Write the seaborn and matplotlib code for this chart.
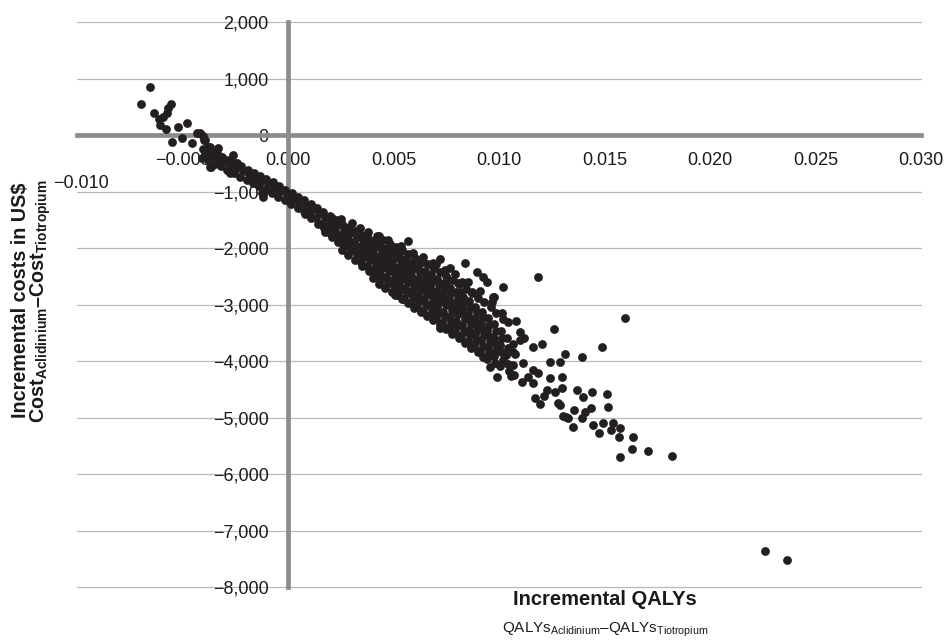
import pandas as pd
import matplotlib
matplotlib.use("Agg")
import matplotlib.pyplot as plt
import seaborn as sns

# Probabilistic sensitivity analysis: incremental QALYs vs incremental costs
# (one dot per simulation)

# scattered dots top-left of the cloud
left_qaly = [-0.00654, -0.00697, -0.00635, -0.00611, -0.00607, -0.00592, -0.00574,
             -0.00569, -0.00555, -0.00578, -0.00550, -0.00521, -0.00502, -0.00479,
             -0.00455, -0.00431, -0.00403, -0.00398, -0.00379, -0.00365, -0.00355,
             -0.00308, -0.00275, -0.00261, -0.00242, -0.00418, -0.00393, -0.00370,
             -0.00336, -0.00370, -0.00300, -0.00330, -0.00123, -0.00118]
left_cost = [850, 550, 390, 280, 180, 320, 390,
             480, 550, 100, -120, 140, -50, 210,
             -140, 30, -20, -90, -210, -560, -320,
             -440, -680, -350, -500, 35, -90, -210,
             -320, -560, -440, -230, -1030, -1100]

# dense main band
band_qaly = [
    -0.00402, -0.00395, -0.00408,
    -0.00372, -0.00365, -0.00378,
    -0.00341, -0.00336, -0.00347,
    -0.00313, -0.00305, -0.00316,
    -0.00282, -0.00276, -0.00287,
    -0.00251, -0.00246, -0.00256,
    -0.00223, -0.00215, -0.00226,
    -0.00191, -0.00187, -0.00196,
    -0.00162, -0.00155, -0.00166,
    -0.00132, -0.00126, -0.00137,
    -0.00102, -0.00095, -0.00106,
    -0.00072, -0.00066, -0.00076,
    -0.00042, -0.00036, -0.00047,
    -0.00012, -0.00006, -0.00016,
    0.00018, 0.00024, 0.00015,
    0.00048, 0.00054, 0.00045,
    0.00078, 0.00084, 0.00074, 0.00081,
    0.00108, 0.00114, 0.00104, 0.00111,
    0.00138, 0.00145, 0.00134, 0.00141,
    0.00168, 0.00174, 0.00165, 0.00171, 0.00177,
    0.00198, 0.00205, 0.00194, 0.00201, 0.00208,
    0.00228, 0.00234, 0.00224, 0.00231, 0.00237,
    0.00258, 0.00264, 0.00254, 0.00261, 0.00267, 0.00256,
    0.00288, 0.00294, 0.00284, 0.00291, 0.00297, 0.00286,
    0.00318, 0.00325, 0.00314, 0.00321, 0.00327, 0.00316,
    0.00348, 0.00354, 0.00344, 0.00351, 0.00357, 0.00346, 0.00353,
    0.00378, 0.00384, 0.00374, 0.00381, 0.00387, 0.00376, 0.00383,
    0.00408, 0.00414, 0.00404, 0.00411, 0.00417, 0.00406, 0.00413, 0.00402,
    0.00438, 0.00444, 0.00434, 0.00441, 0.00447, 0.00436, 0.00443, 0.00432,
    0.00468, 0.00474, 0.00464, 0.00471, 0.00477, 0.00466, 0.00473, 0.00462,
    0.00498, 0.00504, 0.00494, 0.00501, 0.00507, 0.00496, 0.00503, 0.00492, 0.00509,
    0.00528, 0.00534, 0.00524, 0.00531, 0.00537, 0.00526, 0.00533, 0.00522, 0.00539,
    0.00558, 0.00564, 0.00554, 0.00561, 0.00567, 0.00556, 0.00563, 0.00552, 0.00569,
    0.00588, 0.00594, 0.00584, 0.00591, 0.00597, 0.00586, 0.00593, 0.00582, 0.00599,
    0.00618, 0.00624, 0.00614, 0.00621, 0.00627, 0.00616, 0.00623, 0.00612, 0.00629,
    0.00648, 0.00654, 0.00644, 0.00651, 0.00657, 0.00646, 0.00653, 0.00642, 0.00659,
    0.00678, 0.00684, 0.00674, 0.00681, 0.00687, 0.00676, 0.00683, 0.00672, 0.00689,
    0.00708, 0.00714, 0.00704, 0.00711, 0.00717, 0.00706, 0.00713, 0.00702, 0.00719,
    0.00738, 0.00744, 0.00734, 0.00741, 0.00747, 0.00736, 0.00743, 0.00732, 0.00749,
    0.00768, 0.00774, 0.00764, 0.00771, 0.00777, 0.00766, 0.00773, 0.00762, 0.00779,
    0.00798, 0.00804, 0.00794, 0.00801, 0.00807, 0.00796, 0.00803, 0.00792, 0.00809,
    0.00828, 0.00834, 0.00824, 0.00831, 0.00837, 0.00826, 0.00833, 0.00822, 0.00839,
    0.00858, 0.00864, 0.00854, 0.00861, 0.00867, 0.00856, 0.00863, 0.00852, 0.00869,
    0.00888, 0.00894, 0.00884, 0.00891, 0.00897, 0.00886, 0.00893, 0.00882, 0.00899,
    0.00918, 0.00924, 0.00914, 0.00921, 0.00927, 0.00916, 0.00923, 0.00912, 0.00929,
    0.00948, 0.00954, 0.00944, 0.00951, 0.00957, 0.00946, 0.00953, 0.00942,
    0.00978, 0.00984, 0.00974, 0.00981, 0.00987, 0.00976, 0.00983,
    0.01008, 0.01014, 0.01004, 0.01011, 0.01017, 0.01006,
    0.01038, 0.01044, 0.01034, 0.01041, 0.01047,
    0.01068, 0.01074, 0.01064, 0.01071,
]
band_cost = [
    -245, -335, -405,
    -285, -372, -448,
    -328, -425, -505,
    -392, -468, -556,
    -438, -534, -618,
    -497, -588, -676,
    -553, -642, -735,
    -612, -698, -795,
    -664, -758, -855,
    -722, -812, -906,
    -783, -868, -965,
    -838, -934, -1026,
    -903, -996, -1088,
    -968, -1058, -1146,
    -1034, -1122, -1226,
    -1093, -1186, -1296,
    -1152, -1248, -1343, -1398,
    -1218, -1308, -1404, -1476,
    -1287, -1383, -1477, -1576,
    -1362, -1458, -1556, -1648, -1712,
    -1428, -1532, -1627, -1728, -1806,
    -1503, -1598, -1704, -1797, -1894,
    -1568, -1672, -1766, -1873, -1958, -2028,
    -1634, -1727, -1834, -1926, -2034, -2116,
    -1698, -1803, -1896, -2004, -2098, -2214,
    -1762, -1857, -1963, -2058, -2163, -2247, -2318,
    -1818, -1924, -2017, -2124, -2216, -2323, -2414,
    -1884, -1976, -2083, -2177, -2284, -2376, -2468, -2536,
    -1946, -2053, -2147, -2254, -2346, -2453, -2547, -2634,
    -2004, -2107, -2213, -2306, -2414, -2506, -2613, -2706,
    -2068, -2173, -2266, -2373, -2467, -2574, -2666, -2773, -2826,
    -2134, -2236, -2343, -2437, -2544, -2636, -2743, -2836, -2904,
    -2197, -2304, -2396, -2503, -2597, -2704, -2796, -2903, -2976,
    -2263, -2366, -2473, -2566, -2673, -2766, -2873, -2966, -3058,
    -2334, -2437, -2543, -2636, -2744, -2836, -2943, -3036, -3126,
    -2403, -2506, -2613, -2706, -2813, -2906, -3013, -3106, -3198,
    -2468, -2576, -2677, -2784, -2876, -2984, -3076, -3184, -3274,
    -2553, -2646, -2753, -2846, -2953, -3046, -3153, -3246, -3356,
    -2617, -2724, -2816, -2923, -3016, -3124, -3216, -3324, -3436,
    -2704, -2796, -2904, -2996, -3104, -3196, -3304, -3396, -3516,
    -2776, -2884, -2976, -3084, -3176, -3284, -3376, -3484, -3596,
    -2863, -2956, -3063, -3156, -3263, -3356, -3463, -3556, -3676,
    -2946, -3054, -3146, -3254, -3346, -3454, -3546, -3654, -3764,
    -3043, -3136, -3243, -3336, -3443, -3536, -3643, -3736, -3846,
    -3134, -3226, -3334, -3426, -3534, -3626, -3734, -3826, -3926,
    -3246, -3354, -3446, -3554, -3646, -3754, -3846, -3956,
    -3353, -3466, -3584, -3686, -3804, -3916, -4026,
    -3463, -3596, -3724, -3846, -3984, -4096,
    -3596, -3764, -3896, -4054, -4176,
    -3704, -3876, -4064, -4246,
]

# ragged upper edge of the band
fringe_qaly = [0.00252, 0.00301, 0.00343, 0.00379, 0.00422, 0.00451, 0.00483, 0.00512,
               0.00538, 0.00571, 0.00603, 0.00629, 0.00662, 0.00693, 0.00718, 0.00751,
               0.00784, 0.00809, 0.00843, 0.00871, 0.00902, 0.00931, 0.00963, 0.00988,
               0.01021, 0.00472, 0.00534, 0.00592, 0.00641, 0.00703, 0.00742, 0.00793,
               0.00851, 0.00912, 0.00968]
fringe_cost = [-1480, -1560, -1640, -1720, -1790, -1860, -1920, -1980,
               -2040, -2110, -2170, -2230, -2290, -2350, -2420, -2490,
               -2560, -2640, -2720, -2800, -2880, -2960, -3050, -3150,
               -3250, -1850, -1960, -2080, -2160, -2280, -2380, -2460,
               -2600, -2760, -2950]

# loose dots above / below the band
upper_qaly = [0.00431, 0.00569, 0.00839, 0.00896, 0.00943, 0.01019, 0.00970, 0.00768,
              0.00720, 0.00682, 0.00640, 0.00760, 0.00806, 0.00815, 0.00872, 0.01014,
              0.01185, 0.01597, 0.01260, 0.01488, 0.01393, 0.01204, 0.01313, 0.00976,
              0.01043, 0.01100, 0.00209, 0.00327, 0.00517, 0.00626, 0.00687, 0.00924,
              0.00825, 0.00720, 0.00730]
upper_cost = [-1788, -1876, -2265, -2425, -2600, -2690, -2870, -2354,
              -2195, -2300, -2250, -2566, -2620, -2780, -2780, -3150,
              -2513, -3239, -3434, -3752, -3929, -3699, -3876, -2867,
              -3310, -3487, -1470, -1735, -2035, -2250, -2265, -2513,
              -2600, -3416, -3400]

# lower-right tail
tail_qaly = [0.00990, 0.01057, 0.01242, 0.01289, 0.01370, 0.01441, 0.01512, 0.01517,
             0.01398, 0.01171, 0.01194, 0.01280, 0.01355, 0.01408, 0.01318, 0.01351,
             0.01445, 0.01493, 0.01540, 0.01573, 0.01635, 0.01630, 0.01573, 0.01706,
             0.01820, 0.01569, 0.01531, 0.01474, 0.01393, 0.01436, 0.01303, 0.01327,
             0.01213, 0.01289, 0.01100, 0.01066, 0.01114, 0.01161, 0.01185, 0.01137,
             0.01109, 0.01242, 0.01299, 0.01299, 0.01265, 0.01227, 0.01161, 0.00957,
             0.00924, 0.01080, 0.01120, 0.01160, 0.02261, 0.02365]
tail_cost = [-4283, -4265, -4018, -4018, -4513, -4549, -4584, -4814,
             -4637, -4655, -4761, -4743, -4867, -4903, -4991, -5168,
             -5133, -5097, -5097, -5186, -5345, -5558, -5699, -5593,
             -5681, -5345, -5221, -5274, -5009, -4832, -4973, -5009,
             -4620, -4779, -3630, -3840, -4035, -4160, -4212, -4283,
             -4372, -4300, -4283, -4478, -4549, -4513, -4390, -4106,
             -3929, -3300, -3600, -3750, -7363, -7522]

x_ticks = [-0.010, -0.005, 0.000, 0.005, 0.010, 0.015, 0.020, 0.025, 0.030]
y_ticks = [-8000, -7000, -6000, -5000, -4000, -3000, -2000, -1000, 0, 1000, 2000]

groups = [("left", left_qaly, left_cost), ("band", band_qaly, band_cost),
          ("fringe", fringe_qaly, fringe_cost), ("upper", upper_qaly, upper_cost),
          ("tail", tail_qaly, tail_cost)]
df = pd.concat([pd.DataFrame({"qaly": q, "cost": c, "group": g}) for g, q, c in groups],
               ignore_index=True)

sns.set_theme(style="white")
plt.rcParams["font.family"] = ["Liberation Sans", "DejaVu Sans"]
plt.rcParams["mathtext.fontset"] = "custom"
plt.rcParams["mathtext.rm"] = "Liberation Sans"
plt.rcParams["mathtext.bf"] = "Liberation Sans:bold"

axis_grey = "#8c8c8e"
text_col = "#1a1a1a"

fig = plt.figure(figsize=(9.45, 6.41), dpi=100)
ax = fig.add_axes([0.0815, 0.0842, 0.8931, 0.8814])

sns.scatterplot(data=df, x="qaly", y="cost", color="#231f20", s=40, linewidth=0,
                ax=ax, zorder=3, legend=False)

ax.set_xlim(-0.010, 0.030)
ax.set_ylim(-8000, 2000)

# axes cross at the origin
for side in ["top", "right"]:
    ax.spines[side].set_visible(False)
for side in ["left", "bottom"]:
    ax.spines[side].set_position(("data", 0))
    ax.spines[side].set_color(axis_grey)
    ax.spines[side].set_linewidth(3.4)

ax.set_xticks(x_ticks)
ax.set_xticklabels(["" if v == -0.010 else f"{v:.3f}".replace("-", "\u2212") for v in x_ticks])
ax.set_yticks(y_ticks)
ax.set_yticklabels([f"{v:,.0f}".replace("-", "\u2212") for v in y_ticks])
ax.tick_params(axis="x", length=4, width=3, color=axis_grey, labelsize=13,
               labelcolor=text_col, pad=8)
ax.tick_params(axis="y", length=4, width=3, color=axis_grey, labelsize=13,
               labelcolor=text_col, pad=10)

# Excel placed the -0.010 label lower than the others
ax.annotate("\u22120.010", xy=(-0.010, 0), xytext=(4, -48), textcoords="offset pixels",
            ha="center", va="center", fontsize=13, color=text_col)

ax.yaxis.grid(True, color="#b9b9b9", linewidth=0.9)
ax.xaxis.grid(False)
ax.set_axisbelow(True)
for gl in ax.get_ygridlines():
    gl.set_clip_on(False)
ax.set_xlabel("")
ax.set_ylabel("")

fig.text(0.640, 0.0655, "Incremental QALYs", ha="center", va="center",
         fontsize=14.5, fontweight="bold", color=text_col)
fig.text(0.640, 0.017, r"QALYs$_{\mathrm{Aclidinium}}$–QALYs$_{\mathrm{Tiotropium}}$",
         ha="center", va="center", fontsize=11, color=text_col)

fig.text(0.0222, 0.532, "Incremental costs in US$", rotation=90, ha="center",
         va="center", fontsize=14.2, fontweight="bold", color=text_col)
fig.text(0.0434, 0.530, r"Cost$_{\mathbf{Aclidinium}}$–Cost$_{\mathbf{Tiotropium}}$",
         rotation=90, ha="center", va="center", fontsize=14.2, fontweight="bold",
         color=text_col)

fig.savefig("out.png", dpi=100)
